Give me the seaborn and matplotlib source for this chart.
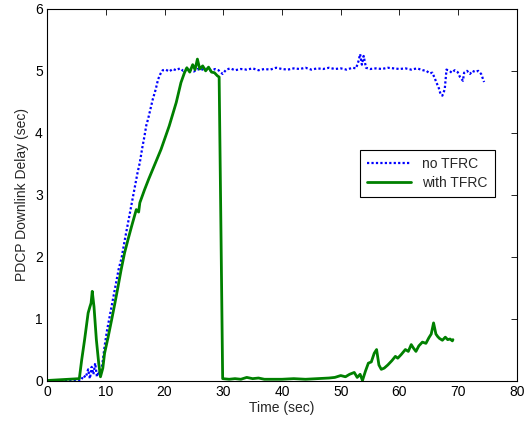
import pandas as pd
import matplotlib
matplotlib.use("Agg")
import matplotlib.pyplot as plt
import seaborn as sns


# values
no_tfrc_time = [
    0, 5.8, 6.2, 6.6, 7.0, 7.3, 7.6, 7.9, 8.2, 8.5,
    8.8, 9.1, 9.4, 9.8, 10.2, 10.7, 11.2, 11.7, 12.2, 12.7,
    13.2, 13.8, 14.3, 14.9, 15.4, 15.8, 16.2, 16.6, 16.9, 17.2,
    17.6, 18.0, 18.5, 18.9, 19.3, 19.7, 20.2, 20.8, 21.4, 22.0,
    22.6, 23.2, 23.8, 24.4, 25.0, 25.6, 26.2, 26.8, 27.4, 28.0,
    28.6, 29.2, 29.9, 30.5, 31.2, 32.0, 33.0, 34.0, 35.0, 36.0,
    37.0, 38.0, 39.0, 40.0, 41.0, 42.0, 43.0, 44.0, 45.0, 46.0,
    47.0, 48.0, 49.0, 50.0, 51.0, 52.0, 52.6, 53.0, 53.3, 53.6,
    53.9, 54.3, 55.0, 56.0, 57.0, 58.0, 59.0, 60.0, 61.0, 62.0,
    63.0, 64.0, 64.6, 65.1, 65.6, 66.0, 66.3, 66.7, 67.0, 67.3,
    67.7, 68.0, 68.5, 68.9, 69.4, 69.9, 70.3, 70.8, 71.0, 71.5,
    72.0, 72.4, 72.9, 73.4, 73.9, 74.4,
]
no_tfrc_delay = [
    0, 0.0, 0.08, 0.05, 0.18, 0.03, 0.22, 0.10, 0.28, 0.06,
    0.15, 0.08, 0.25, 0.55, 0.80, 1.05, 1.30, 1.55, 1.80, 1.98,
    2.25, 2.55, 2.80, 3.10, 3.35, 3.52, 3.75, 3.95, 4.12, 4.22,
    4.38, 4.54, 4.70, 4.86, 4.95, 5.01, 5.02, 4.99, 5.03, 5.01,
    5.04, 5.00, 5.03, 5.02, 4.99, 5.03, 5.01, 5.04, 5.02, 5.00,
    5.03, 5.01, 4.95, 5.02, 5.04, 5.01, 5.03, 5.02, 5.04, 5.01,
    5.03, 5.02, 5.05, 5.03, 5.02, 5.04, 5.03, 5.05, 5.02, 5.04,
    5.03, 5.05, 5.03, 5.04, 5.02, 5.05, 5.04, 5.15, 5.27, 5.10,
    5.24, 5.05, 5.03, 5.04, 5.03, 5.05, 5.04, 5.03, 5.04, 5.02,
    5.04, 5.01, 5.00, 4.96, 4.97, 4.88, 4.81, 4.72, 4.62, 4.60,
    4.70, 5.02, 5.00, 4.97, 5.01, 4.98, 4.90, 4.84, 4.97, 5.00,
    4.95, 5.00, 4.98, 5.00, 4.95, 4.82,
]

with_tfrc_time = [
    0, 5.5, 5.9, 6.4, 7.0, 7.3, 7.5, 7.7, 8.0, 8.4,
    8.8, 9.1, 9.5, 9.8, 10.4, 11.0, 11.5, 12.1, 12.6, 13.2,
    13.8, 14.4, 15.2, 15.6, 15.8, 16.6, 17.3, 18.0, 18.7, 19.4,
    20.1, 20.8, 21.4, 22.0, 22.4, 22.8, 23.4, 23.8, 24.3, 24.8,
    25.2, 25.6, 26.0, 26.5, 27.0, 27.5, 28.0, 28.5, 29.0, 29.3,
    29.6, 29.9, 31.0, 32.0, 33.0, 34.0, 35.0, 36.0, 37.0, 38.0,
    40.0, 42.0, 44.0, 46.0, 48.0, 49.0, 50.0, 50.8, 51.5, 52.3,
    52.8, 53.3, 53.7, 54.2, 54.7, 55.2, 55.7, 56.1, 56.5, 56.9,
    57.4, 58.0, 58.7, 59.3, 59.7, 60.3, 61.0, 61.5, 62.0, 62.4,
    62.8, 63.3, 63.9, 64.5, 65.0, 65.4, 65.8, 66.2, 66.5, 66.8,
    67.3, 67.8, 68.2, 68.6, 69.0, 69.1,
]
with_tfrc_delay = [
    0, 0.03, 0.33, 0.66, 1.09, 1.19, 1.25, 1.44, 1.19, 0.66,
    0.28, 0.06, 0.20, 0.44, 0.70, 0.98, 1.22, 1.52, 1.78, 2.06,
    2.28, 2.49, 2.76, 2.72, 2.87, 3.08, 3.25, 3.41, 3.57, 3.73,
    3.92, 4.11, 4.30, 4.49, 4.65, 4.81, 4.97, 5.05, 4.98, 5.10,
    5.02, 5.19, 5.03, 5.08, 5.00, 5.06, 4.98, 4.97, 4.92, 4.90,
    2.50, 0.03, 0.02, 0.03, 0.02, 0.05, 0.03, 0.04, 0.02, 0.02,
    0.02, 0.03, 0.02, 0.03, 0.04, 0.05, 0.08, 0.06, 0.10, 0.13,
    0.05, 0.10, 0.00, 0.15, 0.28, 0.30, 0.44, 0.50, 0.25, 0.18,
    0.20, 0.25, 0.32, 0.39, 0.36, 0.42, 0.50, 0.47, 0.58, 0.52,
    0.47, 0.56, 0.62, 0.60, 0.69, 0.75, 0.93, 0.75, 0.71, 0.68,
    0.65, 0.70, 0.66, 0.67, 0.64, 0.66,
]

series_labels = ["no TFRC", "with TFRC"]
x_ticks = [0, 10, 20, 30, 40, 50, 60, 70, 80]
y_ticks = [0, 1, 2, 3, 4, 5, 6]


def main():
    sns.set_style("white")
    plt.rcParams["font.family"] = ["Liberation Sans", "DejaVu Sans"]

    fig = plt.figure(figsize=(5.27, 4.25), dpi=100)
    ax = fig.add_axes([0.0892, 0.1047, 0.8918, 0.8743])

    no_df = pd.DataFrame({"time": no_tfrc_time, "delay": no_tfrc_delay})
    with_df = pd.DataFrame({"time": with_tfrc_time, "delay": with_tfrc_delay})

    sns.lineplot(data=no_df, x="time", y="delay", ax=ax, color="#0000ff",
                 linestyle=(0, (1, 1)), linewidth=1.6, sort=False,
                 estimator=None, label=series_labels[0])
    sns.lineplot(data=with_df, x="time", y="delay", ax=ax, color="#008000",
                 linestyle="-", linewidth=2.0, sort=False, estimator=None,
                 label=series_labels[1])

    ax.set_xlim(0, 80)
    ax.set_ylim(0, 6)
    ax.set_xticks(x_ticks)
    ax.set_yticks(y_ticks)
    ax.set_xlabel("Time (sec)", fontsize=10, labelpad=2)
    ax.set_ylabel("PDCP Downlink Delay (sec)", fontsize=10, labelpad=4)
    ax.tick_params(direction="in", length=4, width=0.6, top=True, right=True,
                   labelsize=10, colors="black", pad=3)
    for spine in ax.spines.values():
        spine.set_color("black")
        spine.set_linewidth(0.8)

    leg = ax.legend(loc="upper right", bbox_to_anchor=(0.967, 0.64),
                    fancybox=False, framealpha=1, edgecolor="black",
                    fontsize=10, handlelength=3.2, borderpad=0.5,
                    labelspacing=0.4)
    leg.get_frame().set_linewidth(0.8)

    fig.savefig("out.png", dpi=100)


if __name__ == "__main__":
    main()
